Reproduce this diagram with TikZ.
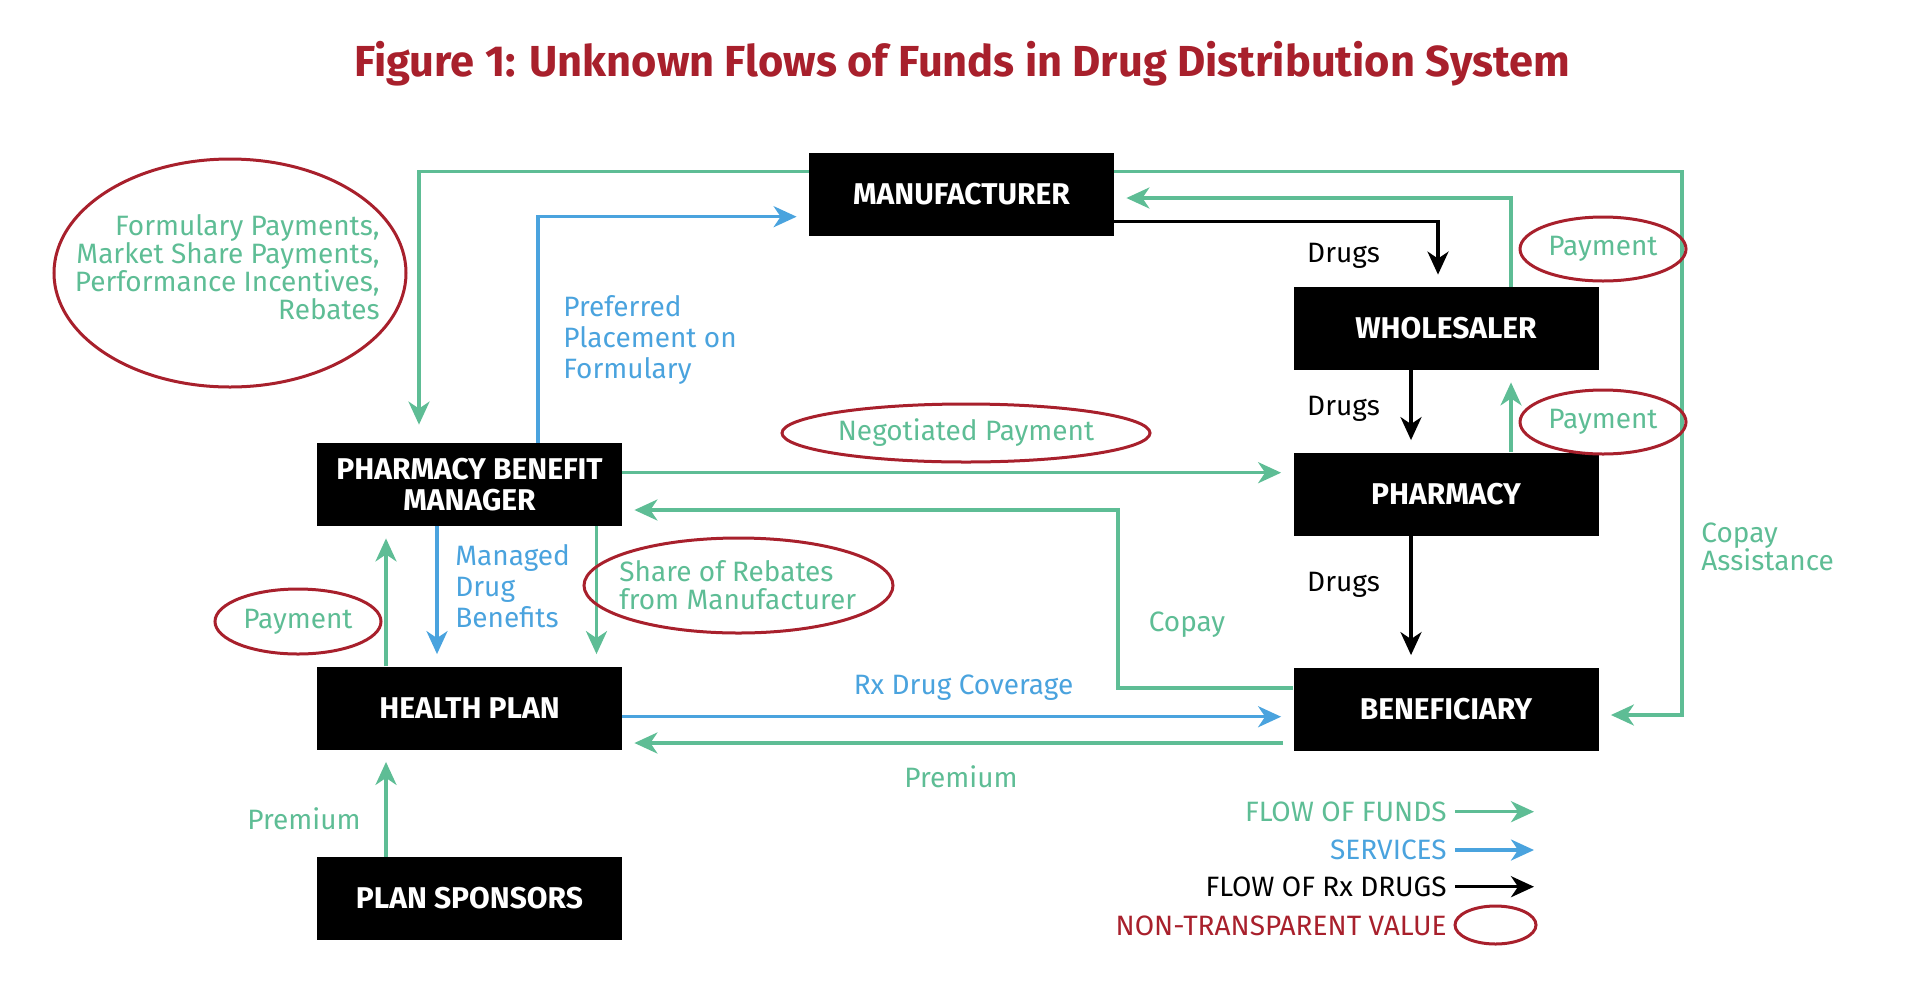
\documentclass[tikz,border=0pt]{standalone}
\usepackage{fontspec}
\setmainfont{Fira Sans}
\usetikzlibrary{arrows.meta,shapes.geometric}

\definecolor{fundgreen}{HTML}{5EBD95}
\definecolor{serviceblue}{HTML}{4AA3DE}
\definecolor{valuered}{HTML}{A8202C}

\begin{document}
\begin{tikzpicture}[x=0.5pt,y=-0.5pt,
  party/.style={fill=black,text=white,font=\bfseries\fontsize{15}{15.5}\selectfont,
    minimum width=152.5pt,minimum height=41.5pt,inner sep=0pt,align=center},
  fundsline/.style={draw=fundgreen,line width=1.7pt,
    -{Stealth[length=11.5pt,width=10.5pt,inset=3.5pt]},shorten >=6pt},
  serviceline/.style={fundsline,draw=serviceblue},
  drugline/.style={fundsline,draw=black},
  fundstext/.style={text=fundgreen,font=\fontsize{14}{14}\selectfont,inner sep=0pt},
  servicetext/.style={fundstext,text=serviceblue},
  drugtext/.style={fundstext,text=black},
  oval/.style={draw=valuered,line width=1.5pt,ellipse,inner sep=0pt}]
\useasboundingbox (0,0) rectangle (1920,980);

%title
\node[text=valuered,font=\bfseries\fontsize{21.7}{22}\selectfont] (title) at (962,64)
  {Figure 1: Unknown Flows of Funds in Drug Distribution System};

%parties
\node[party] (mfr) at (961.5,194) {MANUFACTURER};
\node[party] (whl) at (1446,328.5) {WHOLESALER};
\node[party] (phm) at (1446,494) {PHARMACY};
\node[party] (ben) at (1446,709) {BENEFICIARY};
\node[party] (pbm) at (469.5,484.5) {PHARMACY BENEFIT\\MANAGER};
\node[party] (hp) at (469.5,708) {HEALTH PLAN};
\node[party] (ps) at (469.5,898.5) {PLAN SPONSORS};

%funds
\draw[fundsline,shorten >=9pt] (mfr.west |- 0,171.7) -| (pbm.north -| 419,0);
\draw[fundsline] (mfr.east |- 0,171.7) -- (1682,171.7) |- (ben.east |- 0,715);
\draw[fundsline] (whl.north -| 1511,0) |- (mfr.east |- 0,198);
\draw[fundsline] (phm.north -| 1511,0) -- (whl.south -| 1511,0);
\draw[fundsline] (pbm.east |- 0,472.7) -- (phm.west |- 0,472.7);
\draw[fundsline] (ben.west |- 0,688) -| (1118,510) -- (pbm.east |- 0,510);
\draw[fundsline,shorten <=5pt] (ben.west |- 0,743) -- (hp.east |- 0,743);
\draw[fundsline] (pbm.south -| 596.5,0) -- (hp.north -| 596.5,0);
\draw[fundsline] (hp.north -| 386,0) -- (pbm.south -| 386,0);
\draw[fundsline] (ps.north -| 386,0) -- (hp.south -| 386,0);

%services
\draw[serviceline] (pbm.north -| 538,0) |- (mfr.west |- 0,216.7);
\draw[serviceline] (hp.east |- 0,716.7) -- (ben.west |- 0,716.7);
\draw[serviceline] (pbm.south -| 437,0) -- (hp.north -| 437,0);

%drugs
\draw[drugline] (mfr.east |- 0,221.7) -| (whl.north -| 1438,0);
\draw[drugline] (whl.south -| 1411,0) -- (phm.north -| 1411,0);
\draw[drugline] (phm.south -| 1411,0) -- (ben.north -| 1411,0);

%labels
\node[drugtext] (drugsa) at (1343.5,256) {Drugs};
\node[drugtext] (drugsb) at (1343.5,409) {Drugs};
\node[drugtext] (drugsc) at (1343.5,585) {Drugs};
\node[fundstext] (copay) at (1187,625) {Copay};
\node[fundstext,anchor=west,align=left] (assist) at (1701,547) {Copay\\Assistance};
\node[fundstext] (premhp) at (304,819) {Premium};
\node[fundstext] (premben) at (961,777) {Premium};
\node[servicetext] (rxcov) at (963.5,688) {Rx Drug Coverage};
\node[servicetext,anchor=west,align=left,font=\fontsize{14}{15.5}\selectfont] (managed) at (455,586)
  {Managed\\Drug\\Benefits};
\node[servicetext,anchor=west,align=left,font=\fontsize{14}{15.5}\selectfont] (preferred) at (563,340)
  {Preferred\\Placement on\\Formulary};

%non-transparent value
\node[oval,minimum width=176pt,minimum height=114pt] (ovalform) at (230,273) {};
\node[fundstext,anchor=east,align=right] (formulary) at (380,267.5)
  {Formulary Payments,\\Market Share Payments,\\Performance Incentives,\\Rebates};
\node[oval,fundstext,minimum width=83pt,minimum height=32pt] (paywhl) at (1603,249) {Payment};
\node[oval,fundstext,minimum width=83pt,minimum height=32pt] (payphm) at (1603,422) {Payment};
\node[oval,fundstext,minimum width=83pt,minimum height=32.5pt] (payhp) at (298,621.5) {Payment};
\node[oval,fundstext,minimum width=184pt,minimum height=29pt] (negotiated) at (966,433) {Negotiated Payment};
\node[oval,minimum width=154.5pt,minimum height=47.5pt] (ovalshare) at (738.5,585.5) {};
\node[fundstext,anchor=west,align=left] (share) at (619,585) {Share of Rebates\\from Manufacturer};

%legend
\node[fundstext,anchor=east] (legfunds) at (1447,811.7) {FLOW OF FUNDS};
\node[servicetext,anchor=east] (legserv) at (1447,850) {SERVICES};
\node[drugtext,anchor=east] (legdrug) at (1447,886.7) {FLOW OF Rx DRUGS};
\node[fundstext,text=valuered,anchor=east] (legvalue) at (1447,926) {NON-TRANSPARENT VALUE};
\coordinate (legfundsend) at (1534,811.7);
\coordinate (legservend) at (1534,850);
\coordinate (legdrugend) at (1534,886.7);
\draw[fundsline,shorten >=0pt,shorten <=4pt] (legfunds.east) -- (legfundsend);
\draw[serviceline,shorten >=0pt,shorten <=4pt] (legserv.east) -- (legservend);
\draw[drugline,shorten >=0pt,shorten <=4pt] (legdrug.east) -- (legdrugend);
\node[oval,minimum width=40.5pt,minimum height=19pt] (legoval) at (1495.5,925) {};
\end{tikzpicture}
\end{document}
